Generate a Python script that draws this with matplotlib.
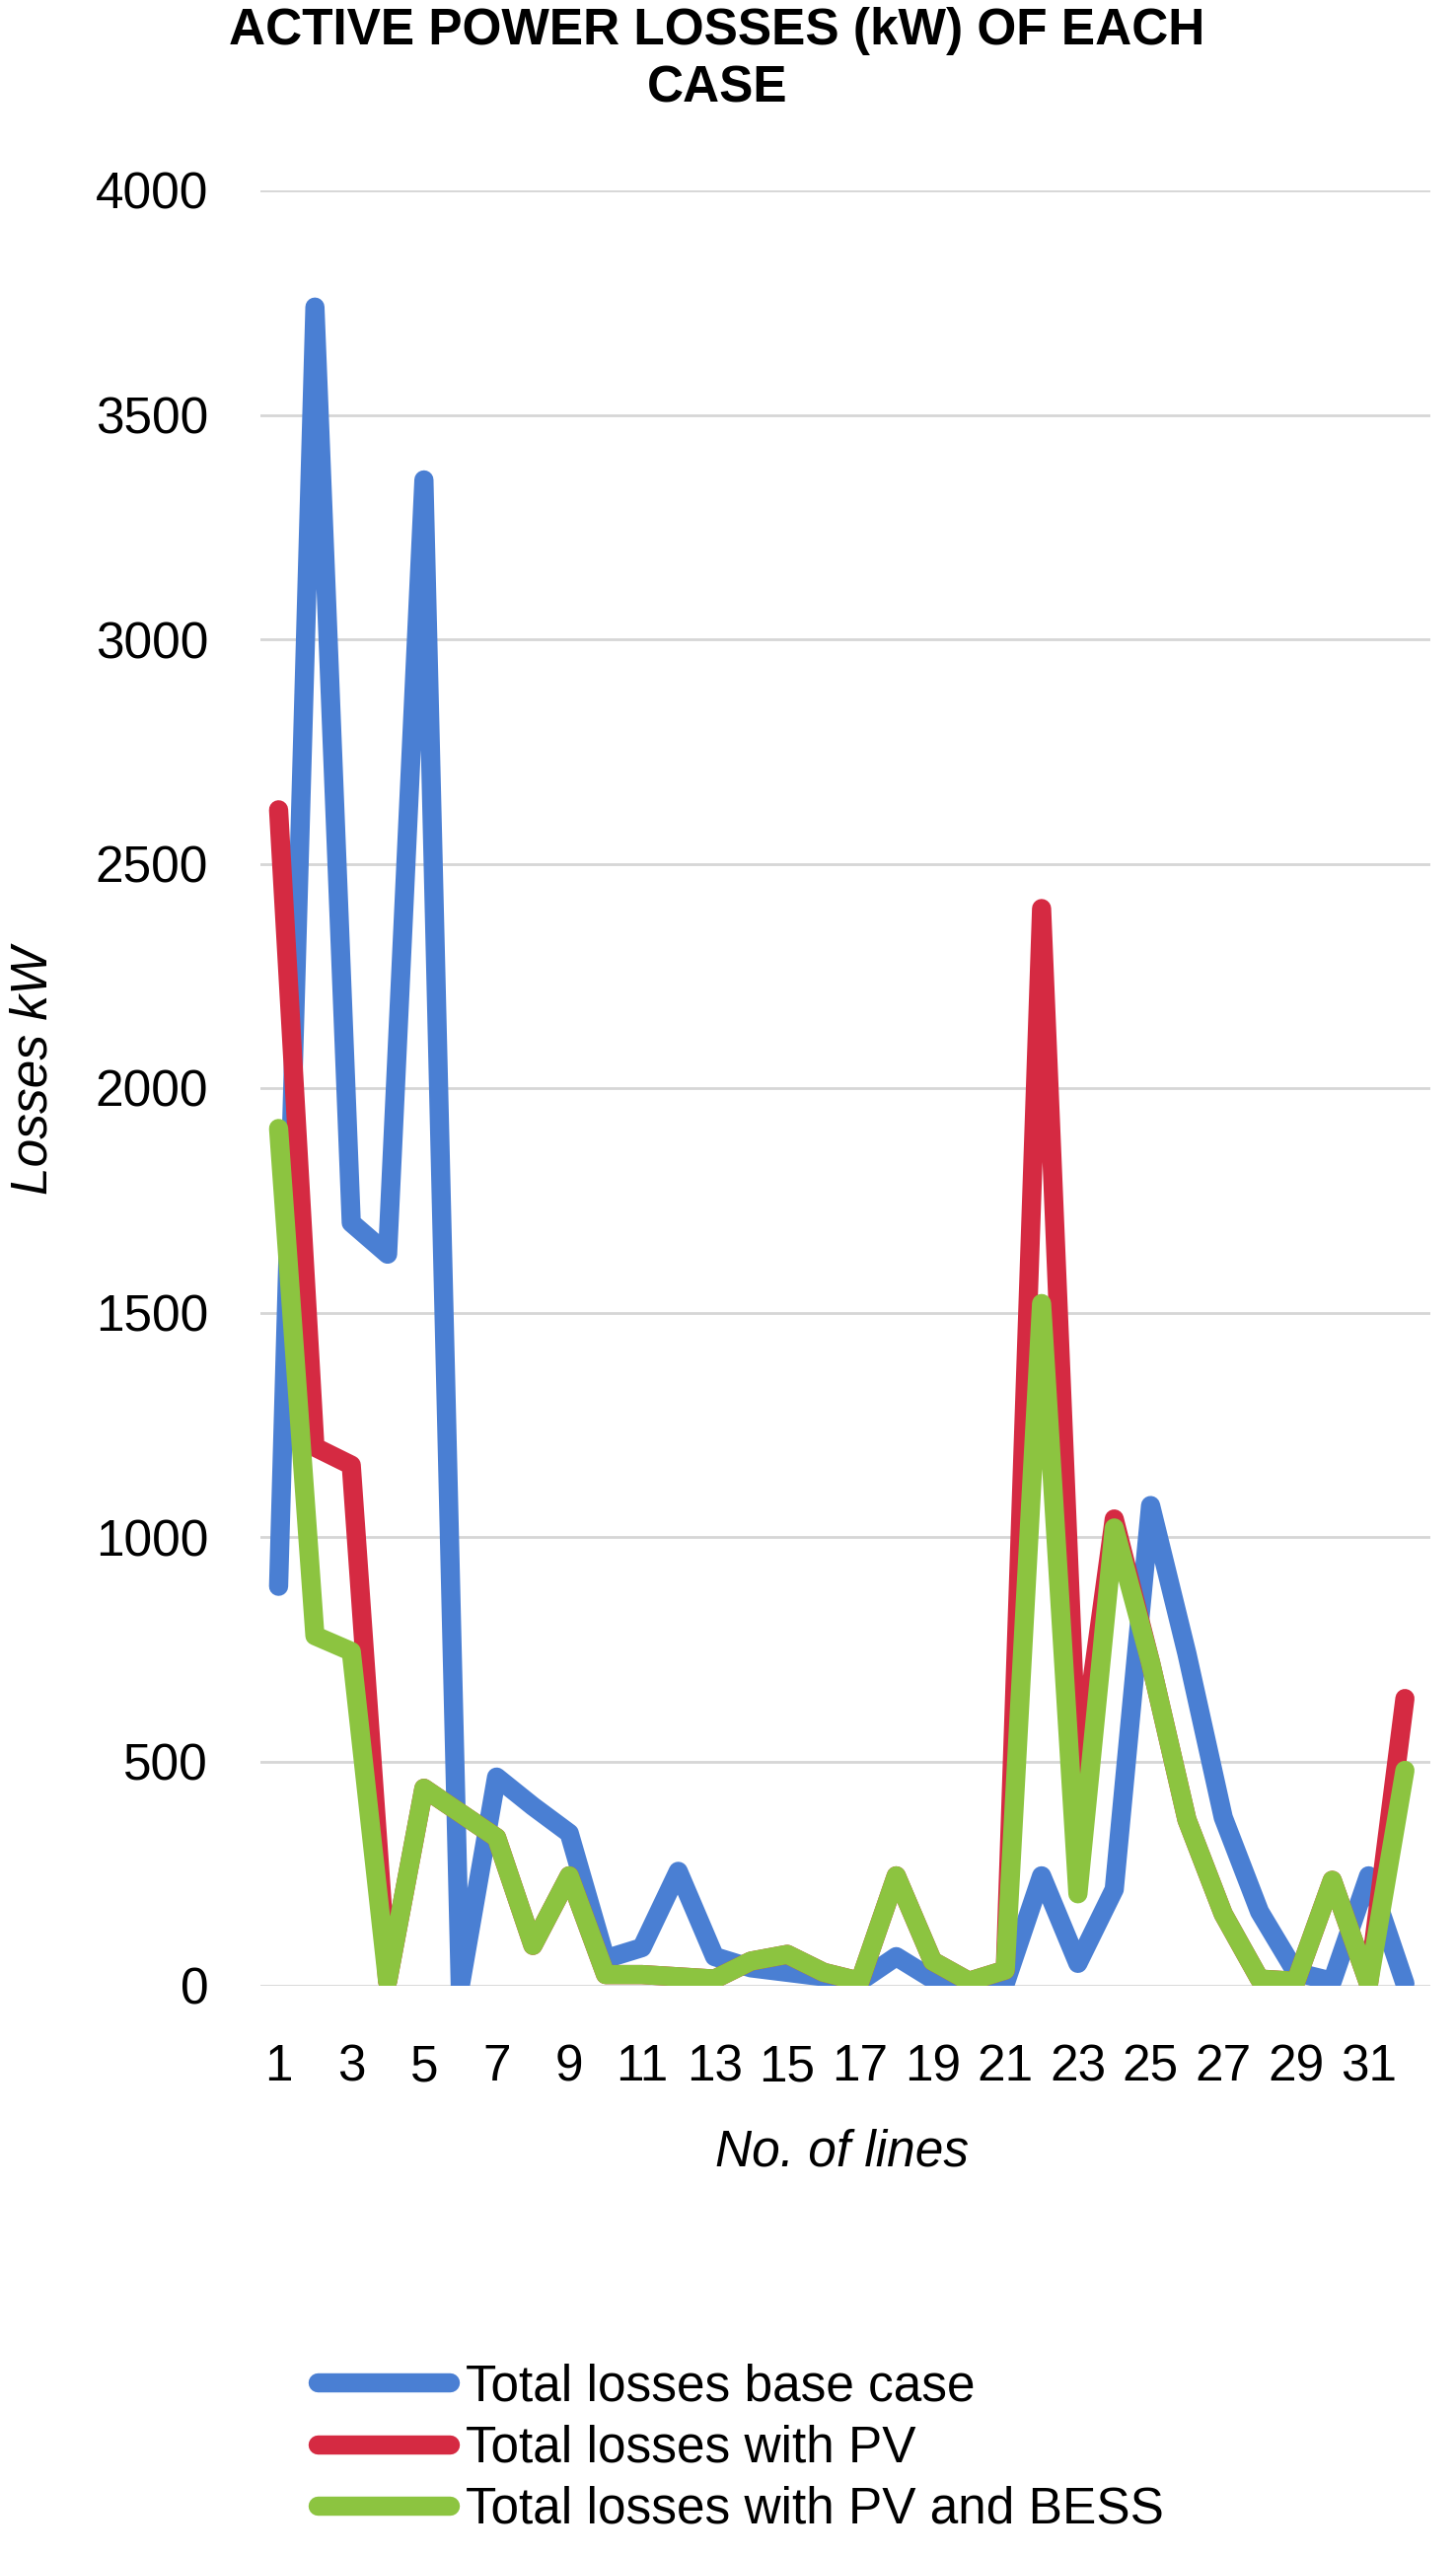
import matplotlib
matplotlib.use('Agg')
import matplotlib.pyplot as plt

# line numbers and losses (kW)
lines = list(range(1, 33))
base_case = [890, 3740, 1700, 1630, 3355, 0, 465, 400, 340, 60, 85, 255, 65, 40, 30, 20,
             10, 65, 15, 5, 5, 245, 50, 215, 1070, 740, 375, 165, 30, 10, 245, 5]
with_pv = [2620, 1200, 1160, 10, 440, 385, 330, 90, 245, 25, 25, 20, 15, 55, 70, 30,
           10, 245, 55, 10, 35, 2400, 450, 1040, 720, 370, 160, 15, 10, 235, 5, 640]
with_pv_bess = [1910, 780, 745, 10, 440, 385, 330, 90, 245, 25, 25, 20, 15, 55, 70, 30,
                10, 245, 55, 10, 35, 1520, 205, 1020, 720, 370, 160, 15, 10, 235, 5, 480]
xticks = list(range(1, 33, 2))
yticks = [0, 500, 1000, 1500, 2000, 2500, 3000, 3500, 4000]

plt.rcParams['font.family'] = ['Liberation Sans', 'DejaVu Sans']
fs = 37

fig = plt.figure(figsize=(14.76, 25.9), dpi=100)
ax = fig.add_axes([264 / 1476, 1 - 2013 / 2590, 1186 / 1476, 1820 / 2590])

lw = 14
style = dict(lw=lw, solid_joinstyle='round', solid_capstyle='round')
ax.plot(lines, base_case, color='#4a7fd3', label='Total losses base case', **style)
ax.plot(lines, with_pv, color='#d52a42', label='Total losses with PV', **style)
ax.plot(lines, with_pv_bess, color='#8cc440', label='Total losses with PV and BESS', **style)

ax.set_xlim(0.5, 32.7)
ax.set_ylim(0, 4000)
ax.set_xticks(xticks)
ax.set_yticks(yticks)
ax.tick_params(length=0, labelsize=fs)
ax.tick_params(axis='y', pad=38)
ax.tick_params(axis='x', pad=42)
ax.grid(axis='y', color='#d6d6d6', lw=2)
ax.set_axisbelow(True)
for s in ax.spines.values():
    s.set_visible(False)

ax.set_xlabel('No. of lines', fontsize=fs, style='italic', va='center')
ax.xaxis.set_label_coords(0.497, -0.093)
ax.set_ylabel('Losses kW', fontsize=fs, style='italic', va='center')
ax.yaxis.set_label_coords(-0.194, 0.51)

fig.text(0.4925, 1 - 61 / 2590, 'ACTIVE POWER LOSSES (kW) OF EACH\nCASE',
         ha='center', va='center', fontsize=fs, fontweight='bold', linespacing=1.25)

fig.legend(loc='center left', bbox_to_anchor=(322 / 1476, 1 - 2482 / 2590),
           frameon=False, fontsize=fs, handlelength=2.6, handletextpad=0.32,
           labelspacing=0.26, borderpad=0, borderaxespad=0)

fig.savefig('out.png', dpi=100)
